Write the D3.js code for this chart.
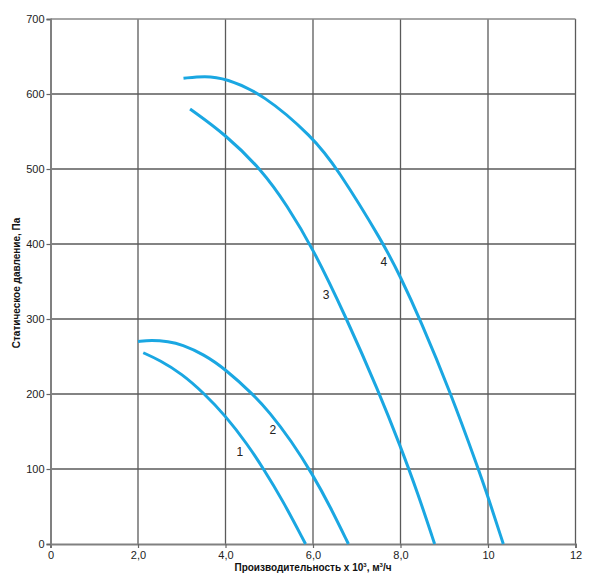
<!DOCTYPE html>
<html><head><meta charset="utf-8">
<script src="https://cdn.jsdelivr.net/npm/d3@7"></script>
<style>body{margin:0;background:#fff}text{font-family:Arial,"Liberation Sans",sans-serif}</style>
</head><body><svg id="c" width="600" height="583"></svg>
<script>
const xTicks = [0, 2, 4, 6, 8, 10, 12];
const xTickLabels = ["0", "2,0", "4,0", "6,0", "8,0", "10", "12"];
const yTicks = [0, 100, 200, 300, 400, 500, 600, 700];
const curveNames = ["1", "2", "3", "4"];
const curve1 = [[2.12,255],[2.5,245],[3.0,227],[3.49,202],[4.0,171],[4.5,133],[4.86,101],[5.3,59],[5.83,0]];
const curve2 = [[2.0,270],[2.3,272],[2.7,270],[3.0,266],[3.5,253],[4.0,233],[4.64,199],[5.0,176],[5.5,138],[6.0,92],[6.4,49],[6.81,0]];
const curve3 = [[3.19,580],[4.0,546],[4.84,498],[5.4,452],[6.0,394],[6.75,303],[7.51,202],[8.0,130],[8.4,67],[8.78,0]];
const curve4 = [[3.04,621],[3.53,624],[4.0,621],[4.86,600],[6.0,542],[6.53,503],[7.62,400],[8.0,356],[8.43,302],[9.15,201],[9.78,100],[10.0,63],[10.35,0]];
const labelPos = [[4.33,123],[5.08,152],[6.30,332],[7.62,376]];

const svg = d3.select("#c");
const x = d3.scaleLinear().domain([0,12]).range([50.5,575.5]);
const y = d3.scaleLinear().domain([0,700]).range([544,19]);

// grid
svg.append("g").selectAll("line").data(xTicks.slice(1)).join("line")
  .attr("x1",d=>x(d)).attr("x2",d=>x(d)).attr("y1",y(0)).attr("y2",y(700))
  .attr("stroke","#5a5a5a").attr("stroke-width",1.3);
svg.append("g").selectAll("line").data(yTicks.slice(1)).join("line")
  .attr("x1",x(0)).attr("x2",x(12)).attr("y1",d=>y(d)).attr("y2",d=>y(d))
  .attr("stroke",d=>d===700?"#888":"#5a5a5a").attr("stroke-width",1.3);

// axes
const xAxis = svg.append("g").attr("transform",`translate(0,${y(0)})`)
  .call(d3.axisBottom(x).tickValues(xTicks).tickFormat((d,i)=>xTickLabels[i]).tickSize(4).tickPadding(3));
const yAxis = svg.append("g").attr("transform",`translate(${x(0)},0)`)
  .call(d3.axisLeft(y).tickValues(yTicks).tickSize(4).tickPadding(2));
[xAxis,yAxis].forEach(a=>{
  a.select(".domain").attr("stroke","#808080").attr("stroke-width",2);
  a.selectAll(".tick line").attr("stroke","#666").attr("stroke-width",1.2);
  a.selectAll(".tick text").attr("fill","#222").style("font-size","11px").style("font-family","Arial, 'Liberation Sans', sans-serif");
});

// curves
const line = d3.line().x(d=>x(d[0])).y(d=>y(d[1])).curve(d3.curveBasis);
[curve1,curve2,curve3,curve4].forEach(c=>{
  svg.append("path").datum(c).attr("d",line).attr("fill","none")
    .attr("stroke","#1aa7e2").attr("stroke-width",3).attr("stroke-linecap","butt");
});

// curve labels
svg.append("g").selectAll("text").data(labelPos).join("text")
  .attr("x",d=>x(d[0])).attr("y",d=>y(d[1])).attr("text-anchor","middle").attr("dy","0.35em")
  .attr("fill","#222").style("font-size","12px").text((d,i)=>curveNames[i]);

// axis titles
const xt = svg.append("text").attr("x",313).attr("y",571).attr("text-anchor","middle")
  .attr("fill","#111").style("font-size","10px").style("font-weight","bold");
xt.append("tspan").text("Производительность х 10");
xt.append("tspan").attr("dy",-4).style("font-size","6px").text("3");
xt.append("tspan").attr("dy",4).text(", м");
xt.append("tspan").attr("dy",-4).style("font-size","6px").text("3");
xt.append("tspan").attr("dy",4).text("/ч");

svg.append("text").attr("transform","translate(20,283) rotate(-90)").attr("text-anchor","middle")
  .attr("fill","#111").style("font-size","10px").style("font-weight","bold")
  .text("Статическое давление, Па");
</script></body></html>
